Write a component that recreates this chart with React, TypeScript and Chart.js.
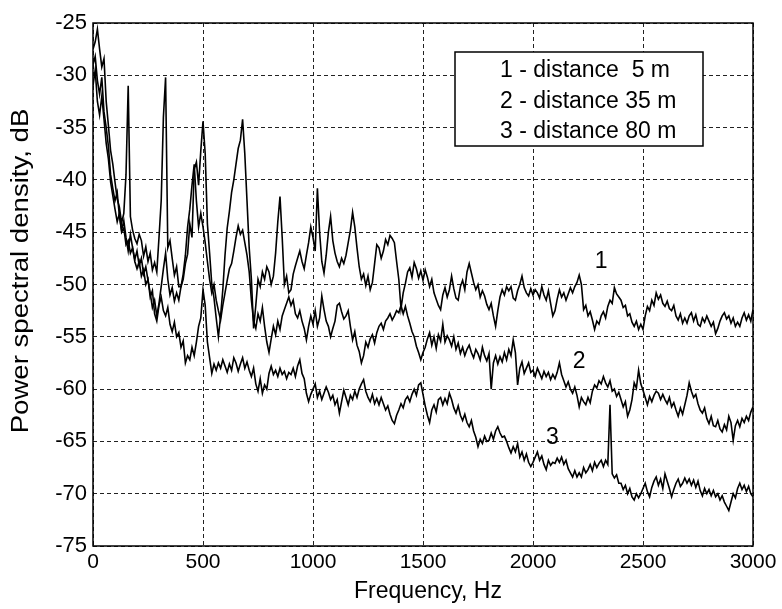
import React, { useEffect, useRef } from 'react';
import { Chart, registerables } from 'chart.js';

Chart.register(...registerables);

// ---- data (dB), sampled every 10 Hz from 0 to 3000 Hz ----
const FREQ_STEP_HZ = 10;

const SERIES_LABELS = ['1 - distance  5 m', '2 - distance 35 m', '3 - distance 80 m'];
const CURVE_TAGS = ['1', '2', '3'];
const TAG_FREQ = [2310, 2210, 2088];
const TAG_DB = [-47.8, -57.4, -64.6];

const X_TICKS = [0, 500, 1000, 1500, 2000, 2500, 3000];
const Y_TICKS = [-75, -70, -65, -60, -55, -50, -45, -40, -35, -30, -25];

const PSD_5M = [
  -27.5, -26.8, -25.6, -27.5, -29.2, -28.4, -32.5, -34.8, -37.2, -38.5,
  -40.2, -41.8, -42.6, -44.1, -43.2, -39.5, -31.0, -43.5, -44.8, -45.6,
  -46.1, -45.2, -45.8, -47.3, -46.4, -47.8, -47.0, -48.6, -47.9, -48.8,
  -45.5, -42.0, -34.0, -30.2, -46.5, -45.8, -47.5, -49.1, -48.3, -50.2,
  -50.2, -49.5, -48.0, -47.1, -44.2, -45.5, -39.0, -38.3, -40.5, -37.2,
  -34.4, -37.5, -44.2, -47.0, -50.0, -51.3, -53.2, -55.0, -53.0, -50.5,
  -47.2, -44.6, -43.0, -41.2, -40.0, -38.5, -37.0, -36.2, -34.2, -37.5,
  -42.0, -46.5, -49.5, -54.2, -52.0, -49.5, -50.2, -48.8, -49.5, -48.3,
  -48.8, -50.0, -49.2, -47.0, -44.0, -41.6, -45.5, -50.0, -49.2, -50.8,
  -50.5, -49.0, -48.2, -47.5, -46.8, -47.8, -48.5, -47.2, -46.0, -44.5,
  -45.5, -46.8, -40.8, -45.0, -47.8, -48.9, -47.2, -45.0, -43.5, -45.8,
  -47.0, -47.8, -48.3, -47.5, -48.0, -47.2, -46.0, -44.8, -43.1, -44.5,
  -46.5, -48.3, -49.5, -49.0, -50.1, -49.2, -50.5, -49.8, -48.0, -46.2,
  -46.5, -47.5, -46.8, -45.7, -46.2, -45.3, -45.6, -46.0, -47.8, -49.5,
  -52.3, -50.8, -49.9, -48.8, -48.4, -49.3, -47.9, -48.5, -49.4, -48.7,
  -49.6, -48.6, -49.3, -50.2, -49.5, -50.8, -51.4, -52.0, -52.4, -51.0,
  -50.3, -51.2, -50.5, -49.2, -50.4, -51.3, -51.5, -50.2, -49.6, -50.5,
  -48.8, -48.0, -48.9, -49.8, -50.5, -50.0, -51.2, -50.6, -51.1, -51.9,
  -52.4, -51.8, -53.0, -54.0, -52.5, -51.2, -50.5, -51.0, -50.2, -50.6,
  -50.2, -51.3, -51.5, -50.6, -50.0, -49.2, -50.3, -50.8, -51.1, -50.4,
  -51.0, -50.5, -50.8, -51.3, -50.2, -51.0, -51.5, -50.6, -51.8, -53.0,
  -52.5, -51.4, -50.5, -51.2, -50.8, -51.5, -50.9, -50.3, -50.8, -50.2,
  -49.8, -49.1, -50.0, -52.4, -52.0, -53.0, -52.6, -53.4, -54.3, -53.5,
  -53.8, -53.0, -52.6, -53.2, -52.1, -51.5, -51.8, -50.3, -50.9, -51.2,
  -51.5, -52.2, -52.0, -53.0, -52.8, -53.6, -54.0, -53.5, -54.3, -53.8,
  -54.3, -53.0, -52.1, -52.5, -51.5, -52.0, -50.8, -51.4, -51.0, -51.8,
  -52.1, -51.6, -52.3, -52.5, -52.0, -53.0, -53.4, -52.8, -53.7, -53.2,
  -53.7, -53.0, -52.7, -53.5, -52.9, -53.8, -54.0, -53.2, -53.6, -53.0,
  -53.5, -54.0, -53.6, -54.7, -54.2, -53.5, -53.0, -52.7, -53.3, -53.0,
  -53.7, -53.2, -54.0, -53.6, -54.0, -53.2, -52.7, -53.4, -52.9, -53.5,
  -52.4,
];

const PSD_35M = [
  -29.0, -28.2, -30.5, -31.8, -30.2, -33.5, -35.0, -36.8, -39.5, -40.8,
  -42.0, -41.2, -43.5, -44.8, -43.9, -45.5, -46.8, -45.2, -46.5, -47.6,
  -46.8, -48.2, -47.5, -49.0, -48.3, -49.6, -50.8, -52.2, -51.5, -53.0,
  -51.8, -50.2, -48.5, -47.0, -49.5, -51.0, -50.3, -51.6, -50.8, -51.5,
  -50.2, -49.0, -47.2, -44.5, -42.8, -40.5, -38.5, -42.0, -44.5, -43.2,
  -44.5, -46.0, -47.8, -49.5, -50.8, -50.0, -51.5, -52.5, -53.4, -52.0,
  -50.8, -49.6, -48.5, -48.0, -46.8, -45.5, -44.4, -45.2, -44.8, -46.0,
  -47.2, -48.8, -51.5, -53.5, -54.2, -52.8, -53.5, -52.2, -54.0, -55.5,
  -56.5, -55.2, -54.0, -54.8, -53.5, -54.3, -53.0, -52.4, -51.8, -51.2,
  -52.0, -51.5, -52.8, -53.2, -52.5, -53.5, -54.2, -55.3, -54.0, -53.0,
  -53.8, -52.5, -54.0, -53.2, -51.1, -52.4, -53.5, -54.0, -55.0, -54.2,
  -53.5, -52.0, -51.8, -52.6, -53.3, -53.0, -52.5, -54.0, -55.3, -54.5,
  -55.8, -56.4, -57.5, -56.8, -55.5, -56.0, -55.2, -54.8, -55.6, -54.6,
  -54.0, -53.7, -54.3, -53.5, -53.2, -52.8, -53.4, -53.0, -52.5, -52.7,
  -52.0, -52.8, -52.1, -53.0, -53.7, -54.5, -55.0, -55.9, -56.5, -57.2,
  -56.5, -56.0, -55.2, -54.6, -55.8, -55.0, -56.1, -54.8, -55.4, -53.8,
  -55.5, -54.9, -55.3, -55.9, -55.0, -56.2, -55.6, -56.6, -56.0, -56.8,
  -56.2, -55.8, -56.5, -57.0, -56.2, -56.6, -57.2, -56.0, -56.8, -57.3,
  -56.6, -60.0, -57.5, -56.8, -57.6, -56.9, -57.4, -56.5, -57.2, -56.2,
  -56.8, -55.3, -56.5, -59.6, -58.0, -57.4, -58.5, -58.0, -57.5, -58.4,
  -58.2, -58.8, -58.0, -58.5, -59.0, -58.3, -58.8, -58.4, -59.1, -58.6,
  -59.0, -58.4, -57.5, -58.6, -59.2, -59.8, -59.3, -60.0, -60.4, -59.8,
  -60.6, -61.7, -60.8, -61.2, -61.5, -60.8, -61.3, -60.2, -59.6, -59.9,
  -59.2, -59.5, -58.8, -59.4, -59.8, -59.2, -60.2, -60.0, -60.7, -60.3,
  -61.0, -61.7, -61.2, -62.6, -62.0, -61.0, -59.4, -59.9, -58.2, -59.5,
  -60.1, -60.8, -61.5, -60.7, -61.2, -60.6, -60.2, -60.4, -61.0, -60.5,
  -61.0, -61.4, -60.8, -61.7, -61.3, -62.0, -62.6, -61.8, -62.4, -61.5,
  -60.6, -59.4, -60.2, -60.8, -60.5, -61.4, -62.0, -62.3, -61.8, -62.8,
  -63.3, -62.6, -63.5, -63.6, -63.0, -63.8, -64.1, -63.4, -63.9, -62.6,
  -63.2, -64.9, -63.5, -63.0, -63.6, -62.8, -63.2, -62.6, -63.0, -62.2,
  -61.7,
];

const PSD_80M = [
  -31.0, -29.5, -32.5, -33.8, -32.0, -34.2, -36.5, -38.0, -40.2, -41.5,
  -42.8, -44.0, -43.2, -45.0, -44.6, -46.2, -45.8, -47.0, -46.5, -47.8,
  -48.5, -47.8, -49.2, -48.6, -50.0, -49.5, -51.2, -50.6, -52.8, -53.5,
  -52.0, -51.2, -52.5, -53.0, -52.2, -53.8, -54.5, -53.6, -55.0, -54.6,
  -56.0, -55.4, -57.5, -56.8, -57.2, -56.0, -56.8, -55.5, -54.0, -53.2,
  -50.5, -52.0, -55.5, -57.0, -58.5, -57.6, -58.2, -57.5, -58.0, -57.2,
  -57.8, -58.4, -57.6, -58.2, -57.0, -57.5, -58.3, -57.6, -57.0, -58.0,
  -57.4, -58.2, -58.8, -58.0, -59.5, -60.2, -59.0, -60.4, -59.6, -60.0,
  -58.5, -57.8, -58.6, -58.2, -58.8, -58.0, -58.6, -58.3, -59.0, -58.4,
  -58.6, -58.0, -58.8, -57.8, -57.2, -58.5, -59.0, -60.4, -61.2, -60.5,
  -60.0, -59.5, -60.8, -60.2, -61.0, -60.4, -59.8, -60.3, -61.0, -60.6,
  -61.5, -61.0, -62.3, -61.2, -60.1, -60.8, -61.5, -60.6, -61.0, -60.2,
  -60.8, -60.0, -59.5, -59.1, -60.2, -60.8, -61.2, -60.5, -61.4, -60.9,
  -61.5, -60.8, -61.4, -62.0, -61.6, -62.4, -63.0, -63.3, -62.5, -62.0,
  -61.4, -61.8, -61.0, -60.7, -61.2, -60.5, -60.0, -60.6, -59.6, -59.4,
  -60.5, -61.6, -62.5, -63.2, -62.0, -61.5, -62.2, -61.0, -60.8, -61.5,
  -60.9, -61.4, -60.4, -61.0, -61.8, -62.3, -61.6, -62.5, -63.0, -62.4,
  -63.2, -63.6, -63.0, -64.0, -64.6, -65.5, -64.8, -65.2, -64.5, -65.0,
  -64.9, -64.2, -64.8, -64.0, -63.6, -64.2, -64.6, -64.5, -65.0, -65.6,
  -66.1, -65.5, -66.0, -65.2, -66.5, -66.0, -66.8, -66.2, -67.0, -67.4,
  -67.0, -66.5, -66.0, -66.8, -66.4, -67.2, -67.7, -66.8, -67.3, -67.0,
  -67.1, -66.6, -67.0, -66.5, -67.2, -66.8, -67.6, -68.0, -68.4, -67.8,
  -68.4, -68.0, -68.4, -67.5, -68.0, -67.7, -67.2, -67.8, -67.0, -67.5,
  -67.1, -66.8, -67.4, -66.8, -67.2, -61.5, -68.1, -68.5, -68.2, -69.0,
  -69.0, -69.6, -69.2, -70.0, -69.5, -70.3, -70.6, -70.0, -70.4, -70.0,
  -69.5, -69.0, -69.8, -70.3, -69.4, -68.8, -68.4, -69.2, -68.6, -69.5,
  -68.1, -68.8, -69.5, -70.3, -69.6, -69.0, -68.6, -69.3, -69.0, -68.5,
  -69.0, -68.6, -69.2, -68.7, -69.4, -68.8, -69.7, -70.2, -69.5, -70.0,
  -69.6, -70.2, -69.7, -70.3, -70.0, -70.6, -70.2, -70.8, -71.2, -71.6,
  -70.8, -70.0, -70.4, -69.5, -69.0, -69.6, -69.2, -69.8, -69.3, -70.0,
  -70.3,
];

const SERIES = [PSD_5M, PSD_35M, PSD_80M];

// ---- styling / layout ----
const FONT_FAMILY = '"Liberation Sans", Arial, sans-serif';
const CANVAS_W = 782;
const CANVAS_H = 609;
const PLOT_LEFT = 93;
const PLOT_TOP = 23;
const PLOT_RIGHT_PAD = 29;
const PLOT_BOTTOM = 546;

const overlayPlugin = {
  id: 'psdOverlay',
  afterDraw(chart: any) {
    const { ctx, chartArea: a, scales } = chart;
    ctx.save();
    ctx.setLineDash([]);
    ctx.strokeStyle = '#000';
    ctx.lineWidth = 1.5;
    ctx.strokeRect(a.left, a.top, a.right - a.left, a.bottom - a.top);

    // legend box
    const bx = a.left + 362;
    const by = a.top + 29;
    const bw = 248;
    const bh = 94;
    ctx.fillStyle = '#fff';
    ctx.fillRect(bx, by, bw, bh);
    ctx.strokeRect(bx, by, bw, bh);
    ctx.fillStyle = '#000';
    ctx.font = `23px ${FONT_FAMILY}`;
    ctx.textAlign = 'left';
    ctx.textBaseline = 'middle';
    SERIES_LABELS.forEach((t, i) => ctx.fillText(t, bx + 45, by + 19 + i * 30.5));

    // curve tags
    ctx.textAlign = 'center';
    CURVE_TAGS.forEach((t, i) => {
      ctx.fillText(t, scales.x.getPixelForValue(TAG_FREQ[i]), scales.y.getPixelForValue(TAG_DB[i]));
    });

    // axis titles
    ctx.font = `23px ${FONT_FAMILY}`;
    ctx.fillText('Frequency, Hz', 428, 592);
    ctx.translate(22, 271);
    ctx.rotate(-Math.PI / 2);
    ctx.scale(1.2, 1);
    ctx.fillText('Power spectral density, dB', 0, 0);
    ctx.restore();
  },
};

export default function App() {
  const canvasRef = useRef<HTMLCanvasElement | null>(null);

  useEffect(() => {
    document.body.style.margin = '0';
    const canvas = canvasRef.current;
    if (!canvas) return;

    const datasets = SERIES.map((s, k) => ({
      label: SERIES_LABELS[k],
      data: s.map((v, i) => ({ x: i * FREQ_STEP_HZ, y: v })),
      borderColor: '#000',
      backgroundColor: '#000',
      borderWidth: 1.6,
      pointRadius: 0,
      tension: 0,
      fill: false,
    }));

    const tickFont = { family: FONT_FAMILY, size: 21 };

    const chart = new Chart(canvas, {
      type: 'line',
      data: { datasets },
      options: {
        animation: false,
        responsive: false,
        devicePixelRatio: 1,
        layout: { padding: { left: 0, top: PLOT_TOP, right: PLOT_RIGHT_PAD, bottom: 0 } },
        plugins: { legend: { display: false }, tooltip: { enabled: false } },
        scales: {
          x: {
            type: 'linear',
            min: X_TICKS[0],
            max: X_TICKS[X_TICKS.length - 1],
            afterBuildTicks: (s: any) => {
              s.ticks = X_TICKS.map((v) => ({ value: v }));
            },
            afterFit: (s: any) => {
              s.height = CANVAS_H - PLOT_BOTTOM;
            },
            ticks: {
              color: '#000',
              font: tickFont,
              padding: 4,
              maxRotation: 0,
              autoSkip: false,
              callback: (v: any) => String(v),
            },
            grid: { color: '#222', lineWidth: 1, drawTicks: false },
            border: { display: false, dash: [4, 3] },
          },
          y: {
            type: 'linear',
            min: Y_TICKS[0],
            max: Y_TICKS[Y_TICKS.length - 1],
            afterBuildTicks: (s: any) => {
              s.ticks = Y_TICKS.map((v) => ({ value: v }));
            },
            afterFit: (s: any) => {
              s.width = PLOT_LEFT;
            },
            ticks: {
              color: '#000',
              font: { family: FONT_FAMILY, size: 22 },
              padding: 6,
              autoSkip: false,
              callback: (v: any) => String(v),
            },
            grid: { color: '#222', lineWidth: 1, drawTicks: false },
            border: { display: false, dash: [4, 3] },
          },
        },
      },
      plugins: [overlayPlugin],
    });

    return () => chart.destroy();
  }, []);

  return (
    <div style={{ width: CANVAS_W, height: CANVAS_H, background: '#fff' }}>
      <canvas ref={canvasRef} width={CANVAS_W} height={CANVAS_H} />
    </div>
  );
}
